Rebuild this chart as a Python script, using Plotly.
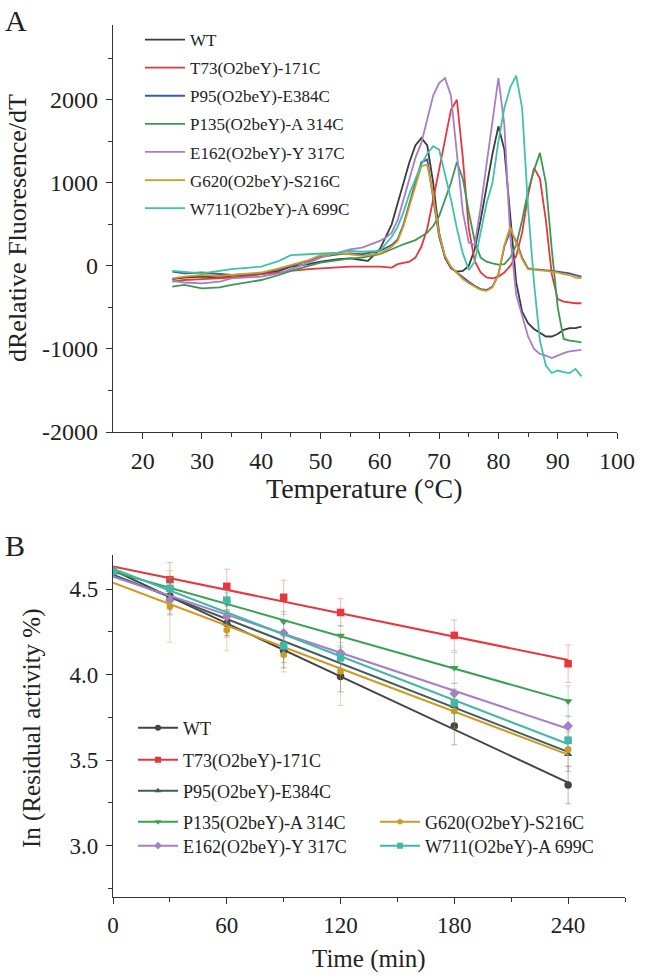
import numpy as np
import plotly.graph_objects as go

# ---------------- Panel A data (temperature, dRFU/dT) ----------------
wt_T = [25,27,30,33,35,38,40,43,45,48,50,53,55,57,58,60,61,62,63,64,65,66,67,68,69,70,71,72,73,74,75,76,77,78,79,80,81,82,83,84,85,86,87,88,89,90,91,92,93,94]
wt_v = [-160,-140,-130,-140,-120,-110,-100,-60,-10,20,50,80,90,70,60,200,350,500,750,1000,1250,1450,1540,1450,1000,400,100,-30,-70,-60,0,200,550,950,1350,1680,1400,600,-200,-550,-690,-760,-800,-850,-850,-820,-770,-750,-750,-730]

t73_T = [25,27,30,33,35,38,40,43,45,48,50,53,55,57,60,62,63,65,66,67,68,69,70,71,72,73,74,75,76,77,78,79,80,81,82,83,84,85,86,87,88,89,90,91,92,93,94]
t73_v = [-190,-170,-160,-150,-140,-120,-100,-80,-60,-40,-30,-20,-10,-10,-10,-20,20,50,100,230,450,800,1150,1500,1880,2000,1300,450,60,-80,-140,-150,-130,-80,0,120,400,850,1180,1050,550,-100,-400,-430,-440,-450,-450]

p95_T = [25,27,30,33,35,38,40,43,45,48,50,53,55,57,60,62,63,64,65,66,67,68,69,70,71,72,73,74,75,76,77,78,79,80,81,82,83,84,85,86,87,88,89,90,91,92,93,94]
p95_v = [-70,-90,-80,-100,-110,-100,-90,-40,0,60,110,140,150,140,180,250,320,500,750,1000,1250,1280,800,350,100,-20,-80,-140,-190,-240,-280,-290,-250,-100,230,420,300,100,-30,-40,-45,-50,-60,-70,-80,-90,-110,-130]

p135_T = [25,27,30,33,35,38,40,43,45,48,50,53,55,57,60,62,64,66,68,69,70,71,72,73,74,75,76,77,78,79,80,81,82,83,84,85,86,87,88,89,90,91,92,93,94]
p135_v = [-250,-230,-270,-260,-230,-190,-170,-110,-60,0,40,70,90,100,140,200,260,310,400,480,600,800,1000,1250,1050,650,300,100,50,30,15,20,100,250,550,900,1150,1360,1000,200,-500,-880,-900,-910,-920]

e162_T = [25,27,30,33,35,38,40,43,45,48,50,53,55,57,60,61,62,63,64,65,66,67,68,69,70,71,72,73,74,75,76,77,78,79,80,81,82,83,84,85,86,87,88,89,90,91,92,93,94]
e162_v = [-180,-200,-210,-190,-150,-140,-130,-90,-40,40,100,160,200,220,300,340,400,550,800,1050,1300,1480,1750,2050,2200,2260,2050,1350,650,280,250,700,1200,1750,2260,1700,350,-350,-600,-850,-1000,-1060,-1080,-1110,-1080,-1050,-1030,-1020,-1010]

g620_T = [25,27,30,33,35,38,40,43,45,48,50,53,55,57,60,62,63,64,65,66,67,68,69,70,71,72,73,74,75,76,77,78,79,80,81,82,83,84,85,86,87,88,89,90,91,92,93,94]
g620_v = [-150,-130,-110,-120,-110,-90,-80,-30,10,70,130,150,140,120,150,230,300,480,720,960,1200,1220,850,380,120,-10,-90,-160,-210,-250,-290,-300,-260,-110,250,470,280,80,-40,-50,-55,-60,-70,-80,-100,-110,-140,-150]

w711_T = [25,27,30,33,35,38,40,43,45,48,50,53,55,57,60,62,63,64,65,66,67,68,69,70,71,72,73,74,75,76,77,78,79,80,81,82,83,84,85,86,87,88,89,90,91,92,93,94]
w711_v = [-60,-70,-90,-60,-40,-20,-10,60,130,140,150,160,180,170,180,350,470,650,870,1050,1220,1350,1440,1400,1110,800,450,150,-50,50,400,750,1000,1500,1900,2150,2290,1900,700,-200,-900,-1200,-1290,-1260,-1280,-1290,-1240,-1330]

# ---------------- Panel B data (time, ln residual activity) ----------------
time_min = [0, 30, 60, 90, 120, 180, 240]
wt_ln   = [4.605, 4.46, 4.30, 4.14, 3.99, 3.70, 3.355]
t73_ln  = [4.605, 4.556, 4.517, 4.453, 4.364, 4.23, 4.064]
p95_ln  = [4.605, 4.45, 4.30, 4.15, 4.13, 3.816, 3.535]
p135_ln = [4.605, 4.505, 4.418, 4.31, 4.228, 4.04, 3.845]
e162_ln = [4.605, 4.436, 4.34, 4.244, 4.128, 3.89, 3.70]
g620_ln = [4.605, 4.40, 4.26, 4.116, 4.02, 3.787, 3.564]
w711_ln = [4.605, 4.505, 4.436, 4.17, 4.10, 3.835, 3.616]

wt_err   = [0.02, 0.08, 0.07, 0.10, 0.09, 0.11, 0.11]
t73_err  = [0.02, 0.10, 0.10, 0.10, 0.08, 0.09, 0.11]
p95_err  = [0.02, 0.10, 0.08, 0.08, 0.10, 0.10, 0.10]
p135_err = [0.02, 0.06, 0.06, 0.06, 0.06, 0.09, 0.09]
e162_err = [0.02, 0.08, 0.06, 0.06, 0.06, 0.06, 0.06]
g620_err = [0.02, 0.21, 0.12, 0.10, 0.20, 0.10, 0.10]
w711_err = [0.02, 0.06, 0.06, 0.06, 0.06, 0.06, 0.06]

names = ["WT", "T73(O2beY)-171C", "P95(O2beY)-E384C", "P135(O2beY)-A 314C",
         "E162(O2beY)-Y 317C", "G620(O2beY)-S216C", "W711(O2beY)-A 699C"]

colors_a = ["#3c3c3c", "#e8363c", "#3c5aa8", "#3a9a52", "#a57fc9", "#d49a22", "#3fc2aa"]
colors_b = ["#444444", "#e8363c", "#3e5c5c", "#3aa052", "#a57fc9", "#d09a22", "#42b8a8"]
err_cols = ["rgba(90,90,90,0.45)", "rgba(232,54,60,0.35)", "rgba(62,92,92,0.35)", "rgba(58,160,82,0.35)",
            "rgba(165,127,201,0.35)", "rgba(208,154,34,0.4)", "rgba(66,184,168,0.35)"]
symbols = ["circle", "square", "triangle-up", "triangle-down", "diamond", "hexagon", "square"]

A_series = [(wt_T, wt_v), (t73_T, t73_v), (p95_T, p95_v), (p135_T, p135_v),
            (e162_T, e162_v), (g620_T, g620_v), (w711_T, w711_v)]
B_series = [(wt_ln, wt_err), (t73_ln, t73_err), (p95_ln, p95_err), (p135_ln, p135_err),
            (e162_ln, e162_err), (g620_ln, g620_err), (w711_ln, w711_err)]

SERIF = "Liberation Serif"
W, H = 648, 978
fig = go.Figure()

# Panel A
for i, (T, v) in enumerate(A_series):
    fig.add_trace(go.Scatter(x=T, y=v, mode="lines", name=names[i],
                             line=dict(color=colors_a[i], width=1.8),
                             xaxis="x", yaxis="y", legend="legend",
                             legendgroup="a%d" % i))

# Panel B legend placement (pixel rows) : each entry in its own legend box
b_leg_x = [133, 133, 133, 133, 133, 375, 375]
b_leg_y = [728, 760, 791, 822, 846, 822, 846]

for i, (y, e) in enumerate(B_series):
    fig.add_trace(go.Scatter(x=time_min, y=y, mode="markers", showlegend=False,
                             marker=dict(symbol=symbols[i], size=7.5, color=colors_b[i]),
                             error_y=dict(type="data", array=e, color=err_cols[i], thickness=1, width=3),
                             xaxis="x2", yaxis="y2"))
    k, b = np.polyfit(time_min, y, 1)
    xs = np.array([time_min[0], time_min[-1]])
    fig.add_trace(go.Scatter(x=xs, y=k * xs + b, mode="lines", showlegend=False,
                             line=dict(color=colors_b[i], width=2),
                             xaxis="x2", yaxis="y2"))
    fig.add_trace(go.Scatter(x=[None], y=[None], mode="lines+markers", name=names[i],
                             line=dict(color=colors_b[i], width=2),
                             marker=dict(symbol=symbols[i], size=6, color=colors_b[i]),
                             xaxis="x2", yaxis="y2", legend="legend%d" % (i + 2)))

axis_common = dict(showline=True, linecolor="#333", linewidth=1.2, ticks="outside",
                   ticklen=6, tickwidth=1.2, tickcolor="#333", showgrid=False, zeroline=False,
                   mirror=False, automargin=False)
minor_common = dict(ticks="outside", ticklen=4, tickcolor="#333", tickwidth=1.2)

layout = dict(
    width=W, height=H, margin=dict(l=0, r=0, t=0, b=0),
    paper_bgcolor="white", plot_bgcolor="white",
    font=dict(family=SERIF, color="#222"),
    xaxis=dict(domain=[113 / W, 617 / W], anchor="y", range=[15, 100],
               tickvals=[20, 30, 40, 50, 60, 70, 80, 90, 100],
               minor=dict(tickvals=[25, 35, 45, 55, 65, 75, 85, 95], **minor_common),
               tickfont=dict(family=SERIF, size=24, color="#222"), ticklabelstandoff=1,
               **axis_common),
    yaxis=dict(domain=[1 - 432 / H, 1 - 25 / H], anchor="x", range=[-2000, 2900],
               tickvals=[-2000, -1000, 0, 1000, 2000], ticktext=["-2000", "-1000", "0", "1000", "2000"],
               minor=dict(tickvals=[-1500, -500, 500, 1500, 2500], **minor_common),
               tickfont=dict(family=SERIF, size=24, color="#222"), ticklabelstandoff=3,
               **axis_common),
    xaxis2=dict(domain=[113 / W, 625 / W], anchor="y2", range=[0, 270],
                tickvals=[0, 60, 120, 180, 240],
                minor=dict(tickvals=[30, 90, 150, 210, 270], **minor_common),
                tickfont=dict(family=SERIF, size=23, color="#222"), ticklabelstandoff=1,
                **axis_common),
    yaxis2=dict(domain=[1 - 897 / H, 1 - 555 / H], anchor="x2", range=[2.7, 4.7],
                tickvals=[3.0, 3.5, 4.0, 4.5], tickformat=".1f",
                minor=dict(tickvals=[2.75, 3.25, 3.75, 4.25], **minor_common),
                tickfont=dict(family=SERIF, size=23, color="#222"), ticklabelstandoff=3,
                **axis_common),
    legend=dict(x=140 / W, y=1 - 22 / H, xanchor="left", yanchor="top", bgcolor="rgba(0,0,0,0)",
                font=dict(family=SERIF, size=17), tracegroupgap=3, itemwidth=40),
    annotations=[
        dict(text="A", x=3 / W, y=1 - 2 / H, xref="paper", yref="paper", xanchor="left", yanchor="top",
             showarrow=False, font=dict(family=SERIF, size=30, color="#222")),
        dict(text="B", x=3 / W, y=1 - 527 / H, xref="paper", yref="paper", xanchor="left", yanchor="top",
             showarrow=False, font=dict(family=SERIF, size=30, color="#222")),
        dict(text="dRelative Fluoresence/dT", x=17 / W, y=1 - 228 / H, xref="paper", yref="paper",
             textangle=-90, showarrow=False, xanchor="center", yanchor="middle",
             font=dict(family=SERIF, size=26, color="#222")),
        dict(text="Temperature (°C)", x=364 / W, y=1 - 488 / H, xref="paper", yref="paper",
             showarrow=False, xanchor="center", yanchor="middle",
             font=dict(family=SERIF, size=28, color="#222")),
        dict(text="In (Residual activity %)", x=32 / W, y=1 - 728 / H, xref="paper", yref="paper",
             textangle=-90, showarrow=False, xanchor="center", yanchor="middle",
             font=dict(family=SERIF, size=25, color="#222")),
        dict(text="Time (min)", x=369 / W, y=1 - 959 / H, xref="paper", yref="paper",
             showarrow=False, xanchor="center", yanchor="middle",
             font=dict(family=SERIF, size=25, color="#222")),
    ],
)
for i in range(7):
    layout["legend%d" % (i + 2)] = dict(x=b_leg_x[i] / W, y=1 - b_leg_y[i] / H, xanchor="left",
                                        yanchor="middle", bgcolor="rgba(0,0,0,0)",
                                        font=dict(family=SERIF, size=18), itemwidth=40)

fig.update_layout(**layout)
fig.write_html("out.html", config={"displayModeBar": False},
               post_script="document.body.style.margin='0px';document.body.style.overflow='hidden';")
